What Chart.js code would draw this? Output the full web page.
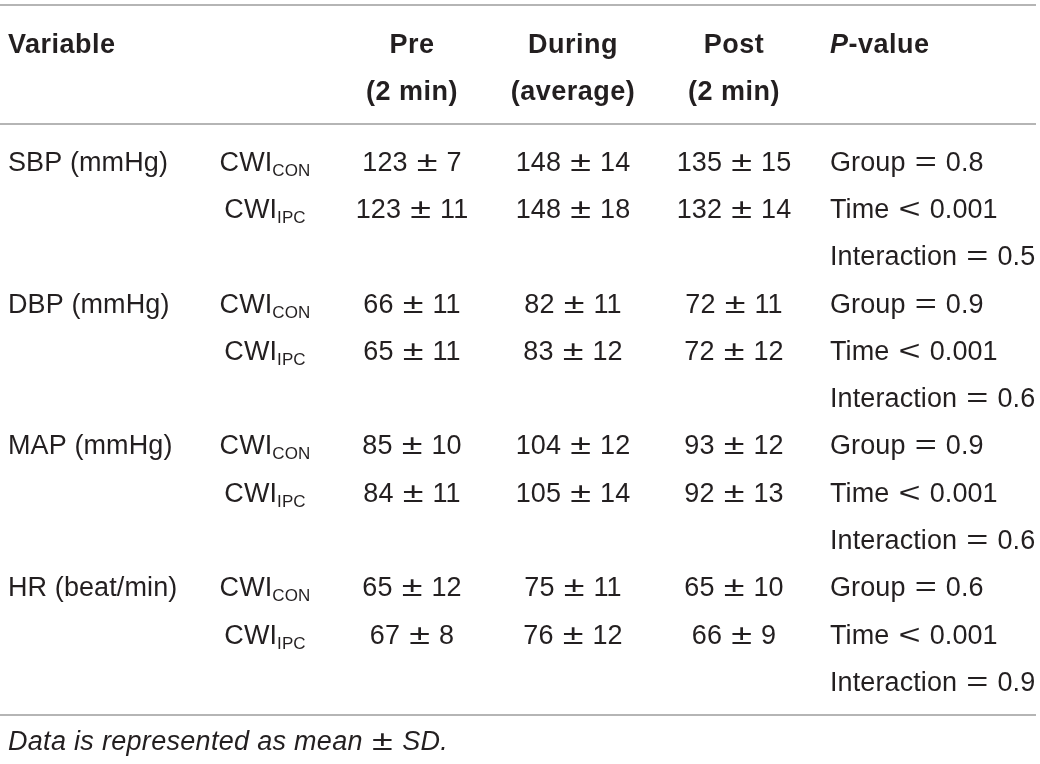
<!DOCTYPE html>
<html>
<head>
<meta charset="utf-8">
<title>Blood pressure and heart rate table</title>
<script src="https://cdn.jsdelivr.net/npm/chart.js@4"></script>
<style>
  html, body { margin: 0; padding: 0; background: #fff; }
  #wrap { width: 1040px; height: 764px; position: relative; }
</style>
</head>
<body>
<div id="wrap"><canvas id="tableChart"></canvas></div>
<script>
// table values
const variables = ['SBP (mmHg)', 'DBP (mmHg)', 'MAP (mmHg)', 'HR (beat/min)'];
const groups = ['CON', 'IPC'];
const timeHeaders = [['Pre', '(2 min)'], ['During', '(average)'], ['Post', '(2 min)']];

// one entry per variable: [CWI_CON, CWI_IPC]
const preMean = [[123, 123], [66, 65], [85, 84], [65, 67]];
const preSD = [[7, 11], [11, 11], [10, 11], [12, 8]];
const duringMean = [[148, 148], [82, 83], [104, 105], [75, 76]];
const duringSD = [[14, 18], [11, 12], [12, 14], [11, 12]];
const postMean = [[135, 132], [72, 72], [93, 92], [65, 66]];
const postSD = [[15, 14], [11, 12], [12, 13], [10, 9]];

const pGroup = ['0.8', '0.9', '0.9', '0.6'];
const pTime = ['< 0.001', '< 0.001', '< 0.001', '< 0.001'];
const pInteraction = ['0.5', '0.6', '0.6', '0.9'];

const footnote = 'Data is represented as mean \u00b1 SD.';

// layout
const FONT = '"Liberation Sans", Arial, Helvetica, sans-serif';
const SIZE = 27;
const SUB_SIZE = 17;
const TEXT_COLOR = '#231f20';
const RULE_COLOR = '#9d9d9d';
const SYM_STRETCH = 1.4;
const SYM_PAD = 1.5;
const colX = { variable: 8, group: 265, pre: 412, during: 573, post: 734, p: 830 };
const ruleRows = [-3.3, -0.78, 11.72];
const headRows = [-2.5, -1.5];
const footRow = 12.25;

// split a string so that math signs get their own (wider) runs
function runsOf(text, style) {
    return text.split(/([\u00b1=<])/).filter(s => s.length)
        .map(s => Object.assign({ t: s, sym: /^[\u00b1=<]$/.test(s) }, style || {}));
}
function cell(x, y, runs, align) {
    return { x: x, y: y, runs: runs, align: align || 'center' };
}
const pm = (m, s) => `${m} \u00b1 ${s}`;

const cells = [];
// header
cells.push(cell(colX.variable, headRows[0], [{ t: 'Variable', bold: true }], 'left'));
['pre', 'during', 'post'].forEach((k, i) => {
    cells.push(cell(colX[k], headRows[0], [{ t: timeHeaders[i][0], bold: true }]));
    cells.push(cell(colX[k], headRows[1], [{ t: timeHeaders[i][1], bold: true }]));
});
cells.push(cell(colX.p, headRows[0], [{ t: 'P', bold: true, italic: true }, { t: '-value', bold: true }], 'left'));

// body
variables.forEach((v, i) => {
    const base = i * 3;
    cells.push(cell(colX.variable, base, runsOf(v), 'left'));
    groups.forEach((g, j) => {
        const r = base + j;
        cells.push(cell(colX.group, r, [{ t: 'CWI' }, { t: g, sub: true }]));
        cells.push(cell(colX.pre, r, runsOf(pm(preMean[i][j], preSD[i][j]))));
        cells.push(cell(colX.during, r, runsOf(pm(duringMean[i][j], duringSD[i][j]))));
        cells.push(cell(colX.post, r, runsOf(pm(postMean[i][j], postSD[i][j]))));
    });
    cells.push(cell(colX.p, base, runsOf('Group = ' + pGroup[i]), 'left'));
    cells.push(cell(colX.p, base + 1, runsOf('Time ' + pTime[i]), 'left'));
    cells.push(cell(colX.p, base + 2, runsOf('Interaction = ' + pInteraction[i]), 'left'));
});
cells.push(cell(colX.variable, footRow, runsOf(footnote, { italic: true }), 'left'));

function applyFont(ctx, run) {
    const size = run.sub ? SUB_SIZE : SIZE;
    ctx.font = `${run.italic ? 'italic ' : ''}${run.bold ? 'bold ' : ''}${size}px ${FONT}`;
    ctx.letterSpacing = run.sym ? '0px' : (run.bold ? '0.5px' : (run.italic ? '0.3px' : '0.1px'));
}

const cellTextPlugin = {
    id: 'cellText',
    afterDatasetsDraw(chart) {
        const idx = chart.data.datasets.findIndex(d => d.label === 'cells');
        const meta = chart.getDatasetMeta(idx);
        const data = chart.data.datasets[idx].data;
        const ctx = chart.ctx;
        ctx.save();
        ctx.fillStyle = TEXT_COLOR;
        ctx.textBaseline = 'alphabetic';
        ctx.textAlign = 'left';
        meta.data.forEach((el, i) => {
            const c = data[i];
            let total = 0;
            const widths = c.runs.map(r => {
                applyFont(ctx, r);
                let w = ctx.measureText(r.t).width;
                if (r.sym) w = w * SYM_STRETCH + 2 * SYM_PAD;
                total += w;
                return w;
            });
            let x = c.align === 'left' ? el.x : el.x - total / 2;
            const baseline = el.y + SIZE * 0.36;
            c.runs.forEach((r, k) => {
                applyFont(ctx, r);
                if (r.sym) {
                    ctx.save();
                    ctx.translate(x + SYM_PAD, baseline);
                    ctx.scale(SYM_STRETCH, 1);
                    ctx.fillText(r.t, 0, 0);
                    ctx.restore();
                } else {
                    ctx.fillText(r.t, x, r.sub ? baseline + 5 : baseline);
                }
                x += widths[k];
            });
        });
        ctx.restore();
    }
};

const ruleSets = ruleRows.map(y => ({
    label: 'rule',
    data: [{ x: 0, y: y }, { x: 1036, y: y }],
    showLine: true,
    borderColor: RULE_COLOR,
    borderWidth: 1.5,
    pointRadius: 0
}));

new Chart(document.getElementById('tableChart'), {
    type: 'scatter',
    data: {
        datasets: ruleSets.concat([{
            label: 'cells',
            data: cells,
            pointRadius: 0,
            pointHoverRadius: 0
        }])
    },
    options: {
        responsive: true,
        maintainAspectRatio: false,
        animation: false,
        events: [],
        layout: { padding: 0 },
        plugins: { legend: { display: false }, tooltip: { enabled: false } },
        scales: {
            x: { type: 'linear', min: 0, max: 1040, display: false },
            y: { type: 'linear', min: -3.405, max: 12.754, reverse: true, display: false }
        }
    },
    plugins: [cellTextPlugin]
});
</script>
</body>
</html>
